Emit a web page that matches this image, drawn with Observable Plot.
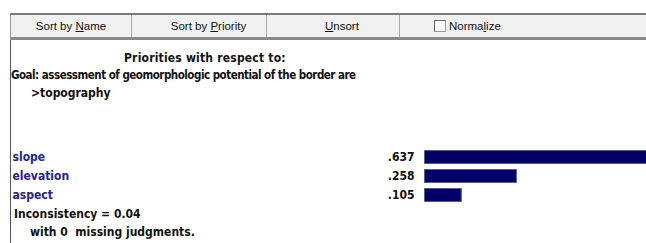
<!DOCTYPE html>
<html><head><meta charset="utf-8">
<script src="https://cdn.jsdelivr.net/npm/d3@7"></script>
<script src="https://cdn.jsdelivr.net/npm/@observablehq/plot@0.6"></script>
<style>
html,body{margin:0;padding:0;background:#fff;}
#wrap{position:relative;width:646px;height:243px;overflow:hidden;background:#fff;font-family:"DejaVu Sans Condensed","DejaVu Sans",sans-serif;}
#bar{position:absolute;left:10px;top:13px;width:640px;height:22px;background:#f0f0f0;border-top:2px solid #7a7a7a;border-bottom:3px solid #8a8a8a;border-left:1px solid #9a9a9a;}
.btn{position:absolute;top:0;height:22px;line-height:22px;text-align:center;font-family:"Liberation Sans",Arial,sans-serif;font-size:11.5px;color:#111;border-right:1px solid #a8a8a8;background:#f0f0f0;}
.cb{position:absolute;top:5px;width:10px;height:10px;border:1px solid #9a9a9a;border-top-color:#666;border-left-color:#666;background:#fff;}
#panel{position:absolute;left:10px;top:40px;width:640px;height:210px;border-left:1px solid #555;}
.t{position:absolute;white-space:pre;font-weight:bold;font-size:12px;color:#111;}
#chart{position:absolute;left:0;top:147px;}
</style></head>
<body><div id="wrap">
<div id="bar">
  <div class="btn" style="left:0;width:120px;">Sort by <u>N</u>ame</div>
  <div class="btn" style="left:140px;width:115px;">Sort by <u>P</u>riority</div>
  <div class="btn" style="left:275px;width:113px;text-align:left;padding-left:0;"><span style="margin-left:39px"><u>U</u>nsort</span></div>
  <div class="cb" style="left:423px;"></div>
  <div class="btn" style="left:438px;width:60px;border:none;text-align:left;">Norma<u>l</u>ize</div>
</div>
<div id="panel"></div>
<div class="t" id="title" style="left:124px;top:51px;letter-spacing:0.2px;"></div>
<div class="t" id="goal" style="left:11px;top:68px;font-size:11.5px;letter-spacing:-0.5px;"></div>
<div class="t" id="node" style="left:31px;top:86px;"></div>
<div id="chart"></div>
<div class="t" id="inc" style="left:14px;top:207px;"></div>
<div class="t" id="miss" style="left:30px;top:225px;"></div>
</div>
<script>
const names = ["slope", "elevation", "aspect"];
const priorities = [0.637, 0.258, 0.105];
const titleText = "Priorities with respect to:";
const goalText = "Goal: assessment of geomorphologic potential of the border are";
const nodeText = ">topography";
const inconsistency = 0.04;
const missing = 0;

document.getElementById("title").textContent = titleText;
document.getElementById("goal").textContent = goalText;
document.getElementById("node").textContent = nodeText;
document.getElementById("inc").textContent = "Inconsistency = " + inconsistency.toFixed(2);
document.getElementById("miss").textContent = "with " + missing + "  missing judgments.";

const data = names.map((n, i) => ({name: n, value: priorities[i]}));
const fmt = v => d3.format(".3f")(v).replace(/^0/, "");

const chart = Plot.plot({
  width: 646,
  height: 59,
  marginLeft: 12,
  marginRight: 0,
  marginTop: 0,
  marginBottom: 0,
  style: {background: "transparent", fontFamily: "'DejaVu Sans Condensed','DejaVu Sans',sans-serif", fontSize: "12px", overflow: "visible"},
  x: {domain: [0, 1], range: [424, 784], axis: null},
  y: {domain: names, paddingInner: 0.26, paddingOuter: 0.13, axis: null},
  marks: [
    Plot.barX(data, {x: "value", y: "name", fill: "#000066", stroke: "#5a5a99", strokeWidth: 1, inset: 0.5, clip: true}),
    Plot.text(data, {y: "name", text: "name", frameAnchor: "left", textAnchor: "start", fill: "#24248a", fontWeight: "bold"}),
    Plot.text(data, {x: 0, y: "name", text: d => fmt(d.value), textAnchor: "end", dx: -10, fill: "#111", fontWeight: "bold"})
  ]
});
document.getElementById("chart").appendChild(chart);
</script>
</body></html>
